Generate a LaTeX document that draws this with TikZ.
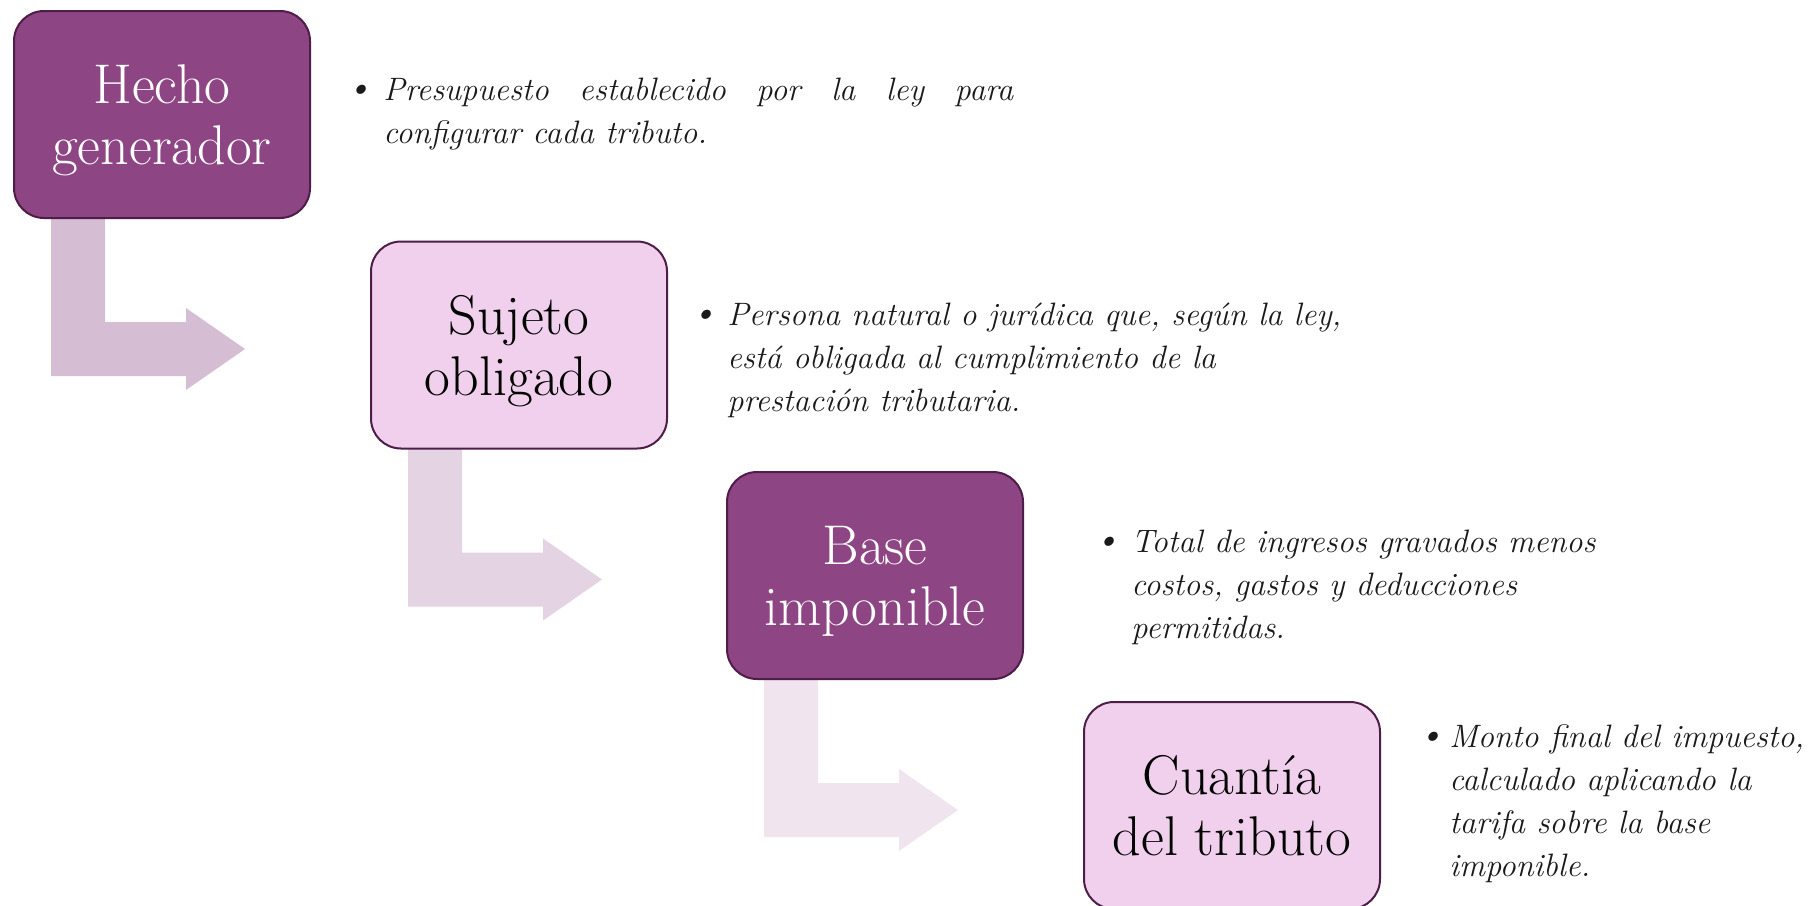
\documentclass[tikz,border=0pt]{standalone}
\usetikzlibrary{calc,backgrounds}
\definecolor{darkfill}{HTML}{8E4583}
\definecolor{lightfill}{HTML}{F1D0EE}
\definecolor{boxline}{HTML}{4E1D48}
\definecolor{arrowA}{HTML}{D5BDD3}
\definecolor{arrowB}{HTML}{E4D3E2}
\definecolor{arrowC}{HTML}{F0E5EF}
\definecolor{textcol}{HTML}{1A1A1A}
\tikzset{
  box/.style={rectangle, rounded corners=15pt, draw=boxline, line width=1pt,
    minimum width=148pt, minimum height=103.5pt, inner sep=0pt, align=center,
    font=\fontsize{28}{30.5}\selectfont},
  darkbox/.style={box, fill=darkfill, text=white},
  lightbox/.style={box, fill=lightfill, text=black},
  desc/.style={anchor=north west, inner sep=0pt, align=left,
    font=\fontsize{16.2}{21.5}\selectfont\itshape, text=textcol},
}
\newcommand\bentarrow[2]{%
  \fill[#2] ($(#1.south west)+(38,-5)$) -- ++(0,162) -- ++(135,0) -- ++(0,14)
    -- ++(59,-41) -- ++(-59,-41) -- ++(0,14) -- ++(-81,0) -- ++(0,-108) -- cycle;}
\newcommand\bul[1]{\llap{\raisebox{1.5pt}{\textbullet}\hspace{#1}}}
\newcommand\toprl{\rule{0pt}{25.5pt}}
\newcommand\botrl{\rule[-6pt]{0pt}{6pt}}
\begin{document}
\begin{tikzpicture}[x=0.5pt,y=-0.5pt]
\useasboundingbox (0,0) rectangle (1819,905);
\node[darkbox]  (hg) at (162,114.5)  {\toprl Hecho\\generador\botrl};
\node[lightbox] (so) at (519,345)    {\toprl Sujeto\\obligado\botrl};
\node[darkbox]  (bi) at (875,575.5)  {\toprl Base\\imponible\botrl};
\node[lightbox] (ct) at (1232,805.5) {\toprl Cuantía\\del tributo\botrl};
\begin{scope}[on background layer]
  \bentarrow{hg}{arrowA}
  \bentarrow{so}{arrowB}
  \bentarrow{bi}{arrowC}
\end{scope}
\node[desc] (t1) at (383,70) {\strut\bul{6pt}\makebox[315pt][s]{Presupuesto establecido por la ley para}\\configurar cada tributo.};
\node[desc] (t2) at (727,295) {\strut\bul{5.5pt}Persona natural o jurídica que, según la ley,\\está obligada al cumplimiento de la\\prestación tributaria.};
\node[desc] (t3) at (1131,522) {\strut\bul{6pt}Total de ingresos gravados menos\\costos, gastos y deducciones\\permitidas.};
\node[desc] (t4) at (1449,717) {\strut\bul{3pt}Monto final del impuesto,\\calculado aplicando la\\tarifa sobre la base\\imponible.};
\end{tikzpicture}
\end{document}
